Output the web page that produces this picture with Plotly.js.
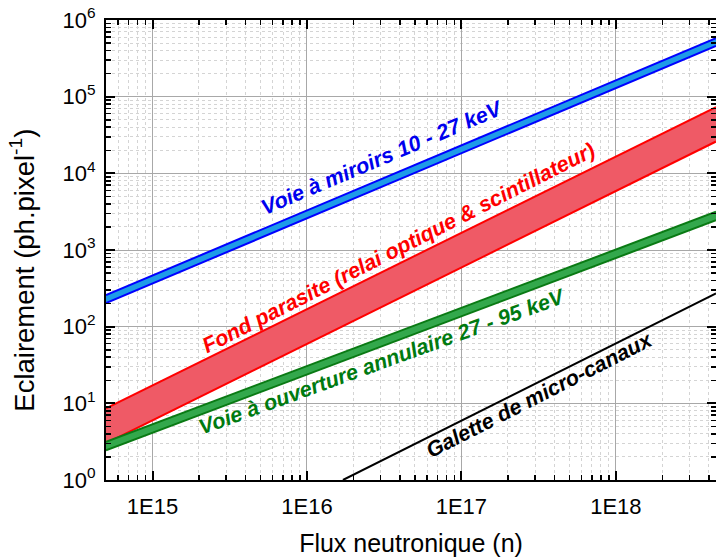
<!DOCTYPE html>
<html>
<head>
<meta charset="utf-8">
<script src="https://cdn.plot.ly/plotly-3.0.1.min.js"></script>
<style>html,body{margin:0;padding:0;background:#fff}#chart{width:716px;height:559px}</style>
</head>
<body>
<div id="chart"></div>
<script>
// Flux endpoints (n)
const fluxBand = [5e14, 4.45e18];
const fluxMcp = [1.71e16, 4.45e18];

// Voie à miroirs 10 - 27 keV (band)
const miroirsLow = [203, 4.6e5];
const miroirsHigh = [258, 5.8e5];

// Fond parasite (band)
const fondLow = [3.0, 2.6e4];
const fondHigh = [8.6, 7.3e4];

// Voie à ouverture annulaire 27 - 95 keV (band)
const annulaireLow = [2.44, 2440];
const annulaireHigh = [3.15, 3150];

// Galette de micro-canaux
const mcp = [1, 272];

// Tick labels
const yTickVals = [1, 10, 100, 1000, 1e4, 1e5, 1e6];
const yTickText = ['10<sup>0</sup>','10<sup>1</sup>','10<sup>2</sup>','10<sup>3</sup>','10<sup>4</sup>','10<sup>5</sup>','10<sup>6</sup>'];
const xTickVals = [1e15, 1e16, 1e17, 1e18];
const xTickText = ['1E15','1E16','1E17','1E18'];

// minor tick positions (2..9 within each decade)
function minorVals(e0, e1) {
  const out = [];
  for (let e = e0; e <= e1; e++) for (let m = 2; m <= 9; m++) out.push(m * Math.pow(10, e));
  return out;
}

function band(low, high, lineColor, fillColor, w) {
  return [
    {x: fluxBand, y: low, mode: 'lines', line: {color: lineColor, width: w}, showlegend: false, hoverinfo: 'skip'},
    {x: fluxBand, y: high, mode: 'lines', line: {color: lineColor, width: w}, fill: 'tonexty', fillcolor: fillColor, showlegend: false, hoverinfo: 'skip'}
  ];
}

const traces = [].concat(
  band(fondLow, fondHigh, '#ff0000', '#ef5a66', 2),
  band(annulaireLow, annulaireHigh, '#0a7a14', '#33a84c', 2),
  band(miroirsLow, miroirsHigh, '#0000ff', '#1e9be8', 2),
  [{x: fluxMcp, y: mcp, mode: 'lines', line: {color: '#000', width: 2}, showlegend: false, hoverinfo: 'skip'}]
);

const font = 'Liberation Sans, Arial, sans-serif';
const annFont = (c) => ({family: font, size: 21.5, color: c, weight: 'bold', style: 'italic'});

const axisCommon = {
  type: 'log',
  showline: true, linecolor: '#000', linewidth: 2, mirror: 'ticks',
  ticks: 'inside', ticklen: 9, tickwidth: 2, tickcolor: '#000',
  showgrid: true, gridcolor: '#a8a8a8', gridwidth: 1,
  zeroline: false,
  tickfont: {family: font, size: 22, color: '#000'}
};
const minorCommon = {ticks: 'inside', ticklen: 5, tickwidth: 1.5, tickcolor: '#000', showgrid: true, gridcolor: '#d4d4d4', griddash: 'dot', gridwidth: 1, tickmode: 'array'};

const layout = {
  width: 716, height: 559,
  margin: {l: 106, r: 0, t: 20, b: 79},
  paper_bgcolor: '#fff', plot_bgcolor: '#fff',
  xaxis: Object.assign({}, axisCommon, {
    range: [Math.log10(5e14), Math.log10(4.45e18)],
    tickmode: 'array', tickvals: xTickVals, ticktext: xTickText,
    ticklabelstandoff: 6,
    minor: Object.assign({}, minorCommon, {tickvals: minorVals(14, 18)}),
    title: {text: 'Flux neutronique (n)', font: {family: font, size: 25, color: '#000'}, standoff: 16}
  }),
  yaxis: Object.assign({}, axisCommon, {
    range: [0, 6],
    tickmode: 'array', tickvals: yTickVals, ticktext: yTickText,
    ticklabelstandoff: 4,
    minor: Object.assign({}, minorCommon, {tickvals: minorVals(0, 5)})
  }),
  annotations: [
    {xref: 'paper', yref: 'paper', x: (23 - 106) / 610, y: 0.455, xanchor: 'center', yanchor: 'middle', text: 'Eclairement (ph.pixel<sup>-1</sup>)', showarrow: false, textangle: -90, font: {family: font, size: 27.5, color: '#000'}},
    {xref: 'paper', yref: 'paper', x: 0.452, y: 0.70, xanchor: 'center', yanchor: 'middle', text: 'Voie à miroirs 10 - 27 keV', showarrow: false, textangle: -23, font: annFont('#0000ee')},
    {xref: 'paper', yref: 'paper', x: 0.48, y: 0.504, xanchor: 'center', yanchor: 'middle', text: 'Fond parasite (relai optique &amp; scintillateur)', showarrow: false, textangle: -27, font: annFont('#ff0000')},
    {xref: 'paper', yref: 'paper', x: 0.452, y: 0.2565, xanchor: 'center', yanchor: 'middle', text: 'Voie à ouverture annulaire 27 - 95 keV', showarrow: false, textangle: -20, font: annFont('#007a10')},
    {xref: 'paper', yref: 'paper', x: 0.711, y: 0.185, xanchor: 'center', yanchor: 'middle', text: 'Galette de micro-canaux', showarrow: false, textangle: -27, font: annFont('#000')}
  ]
};

Plotly.newPlot('chart', traces, layout, {staticPlot: true, displayModeBar: false});
</script>
</body>
</html>
